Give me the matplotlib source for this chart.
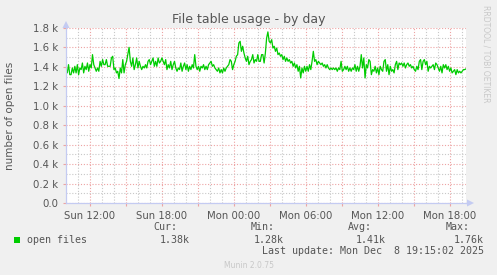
import numpy as np
import matplotlib as mpl
mpl.use("Agg")
import matplotlib.pyplot as plt
from matplotlib.ticker import FixedLocator, FuncFormatter

# open files, 5-min samples (Sun 10:00 -> Mon 19:20)
open_files = [
    1355, 1338, 1423, 1320, 1320, 1389, 1338, 1406, 1338, 1423, 1320, 1389, 1372, 1440, 1338, 1406,
    1372, 1440, 1355, 1423, 1389, 1526, 1423, 1389, 1355, 1389, 1355, 1457, 1406, 1475, 1423, 1423,
    1475, 1406, 1406, 1406, 1492, 1509, 1372, 1389, 1338, 1355, 1280, 1389, 1338, 1475, 1338, 1423,
    1457, 1526, 1601, 1457, 1406, 1492, 1372, 1423, 1492, 1389, 1457, 1406, 1372, 1406, 1389, 1423,
    1389, 1457, 1475, 1423, 1457, 1492, 1406, 1457, 1406, 1492, 1440, 1457,
    1492, 1457, 1423, 1475, 1372, 1423, 1389, 1457, 1372, 1423, 1457, 1389, 1355, 1389, 1372, 1440,
    1355, 1406, 1440, 1372, 1423, 1355, 1406, 1372, 1423, 1389, 1526, 1406, 1372, 1406, 1355, 1406,
    1389, 1423, 1372, 1406, 1372, 1423, 1440, 1457, 1406, 1423, 1389, 1372, 1355, 1389, 1338, 1372,
    1338, 1389, 1355, 1389, 1406, 1423, 1475, 1457, 1372, 1423, 1457, 1509, 1526, 1646, 1663, 1560,
    1612, 1543, 1492, 1457, 1509, 1423, 1457, 1475, 1526, 1440, 1475, 1457, 1526, 1457,
    1457, 1526, 1526, 1440, 1543, 1697, 1760, 1663, 1646, 1680, 1594, 1612, 1560, 1594, 1526, 1543,
    1509, 1526, 1475, 1509, 1457, 1492, 1457, 1475, 1440, 1457, 1406, 1440, 1389, 1423, 1355, 1406,
    1286, 1389, 1338, 1406, 1355, 1406, 1355, 1423, 1372, 1457, 1560, 1457, 1475, 1423, 1457, 1440,
    1423, 1440, 1406, 1423, 1389, 1423, 1389, 1372, 1389, 1372, 1389, 1372, 1389, 1355, 1389, 1372,
    1457, 1355, 1372, 1406, 1372, 1406, 1355, 1389, 1355, 1389, 1372, 1423, 1355, 1406, 1355, 1406,
    1526, 1389, 1492, 1286, 1423, 1389,
    1475, 1457, 1320, 1372, 1355, 1406, 1338, 1389, 1320, 1406, 1372, 1355, 1457, 1475, 1355, 1423,
    1320, 1406, 1355, 1372, 1338, 1423, 1457, 1372, 1440, 1423, 1440, 1406, 1440, 1389, 1423, 1440,
    1406, 1423, 1389, 1406, 1372, 1355, 1406, 1372, 1457, 1475, 1372, 1457, 1475, 1423, 1457, 1355,
    1406, 1389, 1406, 1423, 1372, 1440, 1423, 1389, 1355, 1406, 1338, 1423, 1389, 1423, 1372, 1406,
    1355, 1389, 1338, 1355, 1372, 1320, 1372, 1338, 1355, 1338, 1355, 1372, 1372, 1380,
]
t_start, t_end = 10.0, 43 + 1 / 3  # hours since Sun 00:00

label_hours = [12, 18, 24, 30, 36, 42]
label_texts = ["Sun 12:00", "Sun 18:00", "Mon 00:00", "Mon 06:00", "Mon 12:00", "Mon 18:00"]

stat_names = ["Cur:", "Min:", "Avg:", "Max:"]
stat_values = ["1.38k", "1.28k", "1.41k", "1.76k"]

W, H = 497, 275
BG = "#F0F0F0"
FONT = "#555555"
AXIS = "#C4CBF2"
MGRID = "#EDA3A3"
GRID = "#C8C8C8"

fig = plt.figure(figsize=(W / 100, H / 100), dpi=100, facecolor=BG)
ax = fig.add_axes([66 / W, 1 - 203 / H, 400 / W, 175 / H], facecolor="white")

t = np.linspace(t_start, t_end, len(open_files))
ax.plot(t, open_files, color="#00CC00", lw=0.9, zorder=3)

ax.set_xlim(t_start, t_end)
ax.set_ylim(0, 1800)

# grid: red every 3h / 0.2k, gray every 1h / 0.1k
ax.xaxis.set_major_locator(FixedLocator(np.arange(12, 44, 3)))
ax.xaxis.set_minor_locator(FixedLocator([h for h in range(11, 44) if h % 3]))
ax.yaxis.set_major_locator(FixedLocator(np.arange(0, 1801, 200)))
ax.yaxis.set_minor_locator(FixedLocator(np.arange(100, 1800, 200)))
ax.grid(which="major", color=MGRID, ls=(0, (1, 1.6)), lw=0.8, zorder=1)
ax.grid(which="minor", color=GRID, ls=(0, (1, 1.6)), lw=0.8, zorder=0)

ax.xaxis.set_major_formatter(FuncFormatter(
    lambda v, p: label_texts[label_hours.index(int(round(v)))] if int(round(v)) in label_hours else ""))
ax.yaxis.set_major_formatter(FuncFormatter(
    lambda v, p: "0.0" if v == 0 else "%.1f k" % (v / 1000)))

ax.tick_params(which="major", axis="x", length=2.5, color=MGRID, labelsize=7.3, labelcolor=FONT, pad=3)
ax.tick_params(which="major", axis="y", length=2.5, color=MGRID, labelsize=7.3, labelcolor=FONT, pad=3)
ax.tick_params(which="minor", length=0)

for s in ["top", "right"]:
    ax.spines[s].set_visible(False)
for s in ["left", "bottom"]:
    ax.spines[s].set_color(AXIS)
    ax.spines[s].set_linewidth(0.9)
    ax.spines[s].set_zorder(4)

# axis arrows
fig.patches.append(mpl.patches.Polygon(
    [[467 / W, 1 - 199.5 / H], [467 / W, 1 - 206.5 / H], [474 / W, 1 - 203 / H]],
    closed=True, transform=fig.transFigure, color=AXIS, lw=0))
fig.patches.append(mpl.patches.Polygon(
    [[62.5 / W, 1 - 28 / H], [69.5 / W, 1 - 28 / H], [66 / W, 1 - 21 / H]],
    closed=True, transform=fig.transFigure, color=AXIS, lw=0))
fig.add_artist(mpl.lines.Line2D([466 / W, 468 / W], [1 - 203 / H] * 2, color=AXIS, lw=0.9))

def px(x, y):
    return x / W, 1 - y / H

fig.text(*px(248.5, 19), "File table usage - by day", ha="center", va="center",
         fontsize=9, color=FONT)
fig.text(*px(10, 115.5), "number of open files", ha="center", va="center",
         rotation=90, fontsize=7.5, color=FONT)
fig.text(*px(486, 5), "RRDTOOL / TOBI OETIKER", ha="center", va="top",
         rotation=270, fontsize=5.5, color="#C8C8C8")

mono = "DejaVu Sans Mono"
fig.patches.append(mpl.patches.Rectangle(px(14, 242.5), 6 / W, 6 / H,
                                         transform=fig.transFigure, color="#00CC00", lw=0))
fig.text(*px(27, 240), "open files", ha="left", va="center", fontsize=7.2,
         family=mono, color=FONT)
name_right = [177, 275, 372, 470]
val_right = [190, 284, 386, 484]
for nm, vl, xn, xv in zip(stat_names, stat_values, name_right, val_right):
    fig.text(*px(xn, 227.5), nm, ha="right", va="center", fontsize=7.2, family=mono, color=FONT)
    fig.text(*px(xv, 240), vl, ha="right", va="center", fontsize=7.2, family=mono, color=FONT)
fig.text(*px(484, 251.5), "Last update: Mon Dec  8 19:15:02 2025", ha="right", va="center",
         fontsize=7.2, family=mono, color=FONT)
fig.text(*px(248.5, 265), "Munin 2.0.75", ha="center", va="center", fontsize=5.5, color="#C8C8C8")

fig.savefig("out.png", dpi=100, facecolor=BG)
